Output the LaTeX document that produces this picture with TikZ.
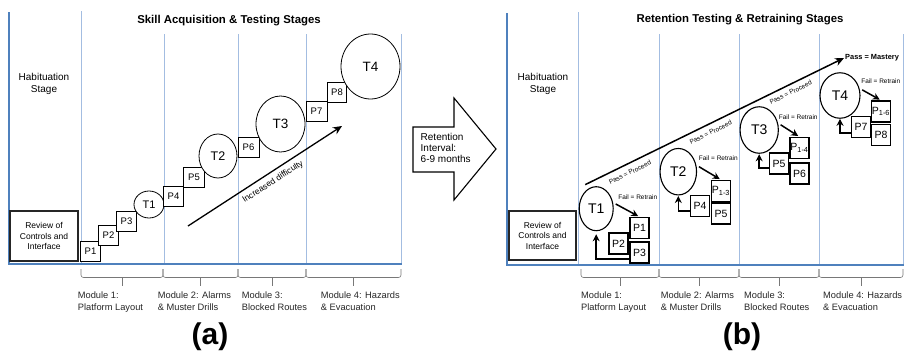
\documentclass[tikz,border=0pt]{standalone}
\usepackage{fontspec}
\setmainfont{Liberation Sans}
\usetikzlibrary{shapes.geometric,arrows.meta}
\definecolor{axisblue}{RGB}{79,129,189}
\definecolor{gridblue}{RGB}{163,189,225}
\definecolor{bracegray}{RGB}{120,120,120}

\tikzset{
  titletext/.style={font=\bfseries\fontsize{11.4}{13}\selectfont},
  stagetext/.style={align=center, inner sep=0pt, font=\fontsize{10}{12}\selectfont},
  reviewbox/.style={draw=black!85, line width=1.1pt, fill=white, minimum width=68pt, minimum height=50pt, inner sep=0pt, align=center, font=\fontsize{8.5}{10.5}\selectfont},
  modtext/.style={anchor=north west, align=left, inner sep=0pt, text=black!85, font=\fontsize{9.3}{12}\selectfont},
  modbrace/.style={draw=bracegray, line width=0.6pt, rounded corners=2.5pt},
  axisline/.style={draw=axisblue, line width=1.8pt},
  gridline/.style={draw=gridblue, line width=0.8pt},
  ptask/.style={draw, fill=white, line width=0.8pt, minimum width=19.5pt, minimum height=20pt, inner sep=0pt, font=\fontsize{9.5}{10}\selectfont},
  rtask/.style={draw, fill=white, line width=1.3pt, minimum width=19pt, minimum height=21pt, inner sep=0pt, font=\fontsize{10.5}{11}\selectfont},
  ttest/.style 2 args={draw, ellipse, fill=white, line width=0.8pt, inner sep=0pt, minimum width=#1, minimum height=#2},
  rtest/.style 2 args={ttest={#1}{#2}, line width=1.1pt, font=\fontsize{14}{14}\selectfont},
  boldarrow/.style={line width=1.5pt, -{Stealth[length=7pt,width=7pt]}},
  smalltext/.style={font=\fontsize{6.5}{7}\selectfont},
  passlbl/.style={smalltext, rotate=26},
  panelletter/.style={anchor=base, font=\bfseries\fontsize{30}{30}\selectfont},
}

\begin{document}
\begin{tikzpicture}[x=1pt,y=-1pt]
\useasboundingbox (0,0) rectangle (906,351);

% panel (a)
\draw[gridline] (81,11) -- (81,264);
\foreach \x in {164,238,306,401} \draw[gridline] (\x,34) -- (\x,264);
\draw[axisline] (9,12) -- (9,264) -- (402,264);

\node[titletext] (aTitle) at (229,21) {Skill Acquisition \& Testing Stages};
\node[stagetext] (aHab) at (44,84) {Habituation\\Stage};
\node[reviewbox] (aReview) at (44,236) {Review of\\Controls and\\Interface};

\node[ptask] (aP1) at (90.5,251) {P1};
\node[ptask] (aP2) at (108.5,235.5) {P2};
\node[ptask] (aP3) at (126.5,221) {P3};
\node[ttest={30pt}{27pt}, font=\fontsize{11}{11}\selectfont] (aT1) at (149,204.5) {T1};
\node[ptask] (aP4) at (173.5,196) {P4};
\node[ptask, minimum width=21pt] (aP5) at (194,177.5) {P5};
\node[ttest={38pt}{44pt}, font=\fontsize{12.5}{12.5}\selectfont] (aT2) at (218,156) {T2};
\node[ptask, minimum width=21pt] (aP6) at (248.5,147.5) {P6};
\node[ttest={49pt}{56pt}, font=\fontsize{13.5}{13.5}\selectfont] (aT3) at (280.5,124) {T3};
\node[ptask, minimum width=21pt] (aP7) at (316.5,111.5) {P7};
\node[ptask] (aP8) at (337,92.5) {P8};
\node[ttest={59pt}{65pt}, font=\fontsize{13.5}{13.5}\selectfont] (aT4) at (370.5,66.5) {T4};

\coordinate (diffA) at (188,226);
\coordinate (diffB) at (342,126);
\draw[boldarrow, line width=1.3pt, -{Stealth[length=9pt,width=8pt]}] (diffA) -- (diffB);
\node[rotate=33, font=\fontsize{8.5}{9}\selectfont] (diffLbl) at (273,182) {Increased difficulty};

% retention interval
\draw[line width=1.1pt, fill=white, line join=miter] (413,127) -- (454,127) -- (454,98) -- (496,149) -- (454,200) -- (454,172) -- (413,172) -- cycle;
\node[anchor=west, align=left, inner sep=0pt, font=\fontsize{10}{11}\selectfont] (gap) at (420.5,148) {Retention\\Interval:\\6-9 months};

% panel (b)
\draw[gridline] (578,12) -- (578,265);
\foreach \x in {659,739,819,903} \draw[gridline] (\x,34) -- (\x,265);
\draw[axisline] (507,13) -- (507,265) -- (904,265);

\node[titletext] (bTitle) at (740,20) {Retention Testing \& Retraining Stages};
\node[stagetext] (bHab) at (543,84) {Habituation\\Stage};
\node[reviewbox, minimum width=67pt, minimum height=49pt] (bReview) at (542.5,235.5) {Review of\\Controls and\\Interface};

\node[rtest={34pt}{44pt}] (rT1) at (596.2,208.7) {T1};
\node[rtask] (top1) at (639.5,228) {P1};
\node[rtask] (side1) at (618.5,243.5) {P2};
\node[rtask] (low1) at (639.5,252.5) {P3};

\node[rtest={36.5pt}{46.5pt}] (rT2) at (678.3,171.7) {T2};
\node[rtask] (top2) at (721,191) {P\textsubscript{1-3}};
\node[rtask] (side2) at (700,206) {P4};
\node[rtask] (low2) at (721,213.5) {P5};

\node[rtest={38.3pt}{46.5pt}] (rT3) at (759.2,130) {T3};
\node[rtask] (top3) at (799.5,148) {P\textsubscript{1-4}};
\node[rtask] (side3) at (779,163.5) {P5};
\node[rtask] (low3) at (799.5,173.5) {P6};

\node[rtest={40pt}{45.5pt}] (rT4) at (840,95.5) {T4};
\node[rtask] (top4) at (881,111.5) {P\textsubscript{1-6}};
\node[rtask] (side4) at (861,127) {P7};
\node[rtask] (low4) at (881,135) {P8};

\node[smalltext] (fail1) at (637.8,197.5) {Fail = Retrain};
\node[smalltext] (fail2) at (718.3,158.3) {Fail = Retrain};
\node[smalltext] (fail3) at (798.2,117.5) {Fail = Retrain};
\node[smalltext] (fail4) at (880.8,80.8) {Fail = Retrain};

\draw[boldarrow, shorten <=3pt, shorten >=1.5pt] (rT1.20) -- (top1.north);
\draw[boldarrow, shorten <=3pt, shorten >=1.5pt] (rT2.20) -- (top2.north);
\draw[boldarrow, shorten <=3pt, shorten >=1.5pt] (rT3.20) -- (top3.north);
\draw[boldarrow, shorten <=3pt, shorten >=1.5pt] (rT4.20) -- (top4.north);

\draw[boldarrow, shorten >=3pt] ([yshift=-6.5pt]low1.west) -| (rT1.south);
\draw[boldarrow, shorten >=0.5pt] ([yshift=-5pt]side2.west) -| (rT2.south);
\draw[boldarrow, shorten >=0.5pt] ([yshift=-4.5pt]side3.west) -| (rT3.south);
\draw[boldarrow] ([yshift=-6pt]side4.west) -| (rT4.south);

\node[anchor=west, inner sep=1pt, font=\bfseries\fontsize{7.4}{8}\selectfont] (mastery) at (844,58) {Pass = Mastery};
\draw[boldarrow, -{Stealth[length=9pt,width=8pt]}] ([shift={(-11pt,1.5pt)}]rT1.north) -- (mastery.west);
\node[passlbl] (pass1) at (630,172.3) {Pass = Proceed};
\node[passlbl] (pass2) at (710.7,132.3) {Pass = Proceed};
\node[passlbl] (pass3) at (790.7,92.3) {Pass = Proceed};

% modules
\foreach \a/\b in {81/163,163/238,238/306,306/401,581/659,659/739,739/819,819/903}{
  \draw[modbrace] (\a,269) |- (\b,277.5) -- (\b,269);
  \draw[modbrace] ({(\a+\b)/2},277.5) -- ++(0,8.5);
}
\node[modtext] (aMod1) at (77.7,291.5) {Module 1:\\Platform Layout};
\node[modtext] (aMod2) at (157.7,291.5) {Module 2: Alarms\\\& Muster Drills};
\node[modtext] (aMod3) at (241.7,291.5) {Module 3:\\Blocked Routes};
\node[modtext] (aMod4) at (320.7,291.5) {Module 4: Hazards\\\& Evacuation};
\node[modtext] (bMod1) at (581,291.5) {Module 1:\\Platform Layout};
\node[modtext] (bMod2) at (660.7,291.5) {Module 2: Alarms\\\& Muster Drills};
\node[modtext] (bMod3) at (744,291.5) {Module 3:\\Blocked Routes};
\node[modtext] (bMod4) at (823,291.5) {Module 4: Hazards\\\& Evacuation};

\node[panelletter] (aTag) at (210,344) {(a)};
\node[panelletter] (bTag) at (742,344) {(b)};
\end{tikzpicture}
\end{document}
